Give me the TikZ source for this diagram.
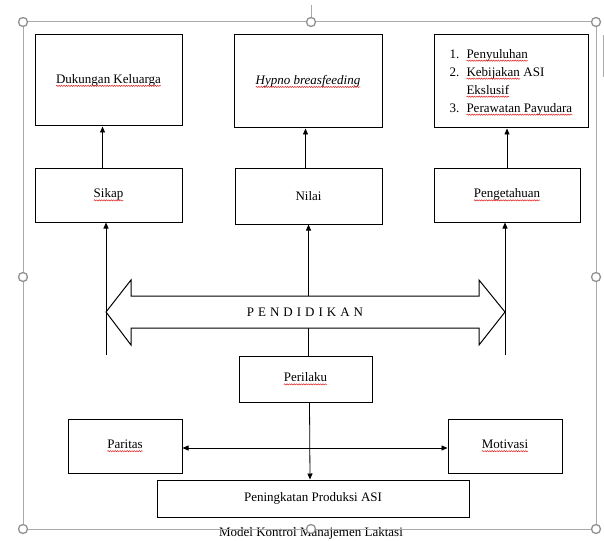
\documentclass[tikz,border=0pt]{standalone}
\usepackage{fontspec}
\setmainfont{Liberation Serif}
\usepackage{xcolor}
\usetikzlibrary{arrows.meta,decorations.pathmorphing}
\definecolor{bingkaiGray}{RGB}{170,170,170}
\definecolor{gagangGray}{RGB}{145,145,145}
\definecolor{ejaanRed}{RGB}{225,35,35}

\tikzset{
  kotak/.style={draw=black, line width=1pt, fill=white, inner sep=2pt, align=center, font=\fontsize{13}{18}\selectfont},
  panah/.style={-{Triangle[length=6pt,width=5pt]}, line width=0.8pt},
  duapanah/.style={{Triangle[length=6pt,width=5pt]}-{Triangle[length=6pt,width=5pt]}, line width=0.8pt},
  bingkai/.style={draw=bingkaiGray, line width=1pt},
  gagang/.style={draw=gagangGray, fill=white, line width=1.3pt},
  ejaan/.style={draw=ejaanRed, line width=0.5pt, decorate, decoration={snake, amplitude=0.6pt, segment length=2.4pt}},
  kata/.style={draw=none, fill=none, inner sep=0pt, outer sep=0pt, minimum width=0pt, minimum height=0pt},
}
% wavy spell-check underline
\newcommand{\salah}[1]{\tikz[baseline=(s.base)]{\node[kata] (s) {#1}; \path[ejaan] ([yshift=-2.6pt]s.base west) -- ([yshift=-2.6pt]s.base east);}}
\newcommand{\jarak}{\kern4pt}

\begin{document}
\begin{tikzpicture}[x=1pt,y=-1pt]
\useasboundingbox (0,0) rectangle (604,540);
% Top row
\node[kotak, minimum width=147pt, minimum height=91pt] (keluarga) at (108.5,80.5) {\salah{Dukungan Keluarga}};
\node[kotak, minimum width=148pt, minimum height=93pt] (hypno) at (308,81.5) {\salah{\textit{Hypno breasfeeding}}};
\node[kotak, minimum width=154pt, minimum height=93pt] (program) at (511,81.5) {\begin{tabular}{@{}l@{\hspace{7pt}}l@{}}1. & \salah{Penyuluhan}\\ 2. & \salah{Kebijakan} ASI\\ & \salah{Ekslusif}\\ 3. & \salah{Perawatan Payudara}\end{tabular}};
% Middle row
\node[kotak, minimum width=147pt, minimum height=54pt] (sikap) at (108.5,195) {\salah{Sikap}};
\node[kotak, minimum width=147pt, minimum height=56pt] (nilai) at (308.5,196) {Nilai};
\node[kotak, minimum width=146pt, minimum height=54pt] (tahu) at (507,195) {\salah{Pengetahuan}};
% Bottom part
\node[kotak, minimum width=133pt, minimum height=46pt] (perilaku) at (305.5,379) {\salah{Perilaku}};
\node[kotak, minimum width=114pt, minimum height=54pt] (paritas) at (125,446) {\salah{Paritas}};
\node[kotak, minimum width=114pt, minimum height=54pt] (motivasi) at (505,446) {\salah{Motivasi}};
\node[kotak, minimum width=312pt, minimum height=37pt] (asi) at (313,498.5) {Peningkatan Produksi ASI};

% Arrows up to the top row
\draw[panah] ([xshift=-6pt]sikap.north) -- ([xshift=-6pt]keluarga.south);
\draw[panah] ([xshift=-3pt]nilai.north) -- ([xshift=-3pt]nilai.north |- hypno.south);
\draw[panah] (tahu.north) -- (tahu.north |- program.south);

% Arrows up from below the band
\coordinate (kiri) at (106,355);
\coordinate (kanan) at (505,355);
\draw[panah] (kiri) -- (kiri |- sikap.south);
\draw[panah] (perilaku.north -| nilai.south) -- (nilai.south);
\draw[panah] (kanan) -- (kanan |- tahu.south);

% Band arrow
\draw[line width=1pt, fill=white] (106,312) -- (131,280) -- (131,296) -- (479,296) -- (479,280) -- (505,312) -- (479,345) -- (479,328) -- (131,328) -- (131,345) -- cycle;
\node[font=\fontsize{13}{15}\selectfont] (didik) at (305,312) {P\jarak E\jarak N\jarak D\jarak I\jarak D\jarak I\jarak K\jarak A\jarak N};

% Lower connectors
\draw[panah] ([xshift=4pt]perilaku.south) -- ([xshift=-3pt]asi.north);
\draw[duapanah] ([yshift=-2pt]paritas.east) -- ([yshift=-2pt]motivasi.west);

% Caption
\node[font=\fontsize{13}{15}\selectfont] (judul) at (311,533) {Model Kontrol Manajemen Laktasi};

% Selection frame
\draw[bingkai] (23,22) rectangle (596,529);
\draw[bingkai] (311,5) -- (311,22);
\draw[bingkai] (603,35) -- (603,77);
\foreach \x/\y in {23/22,311/22,596/22,23/277,596/277,23/529,311/529,596/529}
  \draw[gagang] (\x,\y) circle (4.5pt);
\end{tikzpicture}
\end{document}
